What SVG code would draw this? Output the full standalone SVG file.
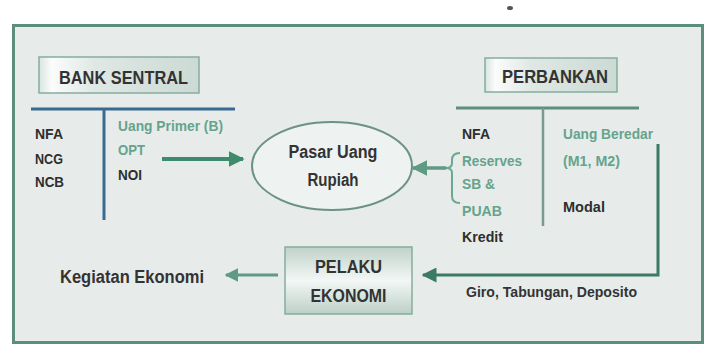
<svg xmlns="http://www.w3.org/2000/svg" width="721" height="358" viewBox="0 0 721 358">
<defs>
<linearGradient id="gH" x1="0" y1="0" x2="1" y2="0">
<stop offset="0" stop-color="#d9e5e0"/>
<stop offset="0.08" stop-color="#fbfcfc"/>
<stop offset="0.35" stop-color="#dfe8e4"/>
<stop offset="1" stop-color="#ccdad4"/>
</linearGradient>
<linearGradient id="gV" x1="0" y1="0" x2="0" y2="1">
<stop offset="0" stop-color="#bfd2c9"/>
<stop offset="0.5" stop-color="#f3f7f5"/>
<stop offset="1" stop-color="#bcd0c7"/>
</linearGradient>
<marker id="ahG" viewBox="0 0 10 10" refX="9" refY="5" markerWidth="4" markerHeight="4" orient="auto" markerUnits="strokeWidth">
<path d="M0,0 L10,5 L0,10 Z" fill="#3d8a6c"/>
</marker>
<marker id="ahL" viewBox="0 0 10 10" refX="9" refY="5" markerWidth="4.5" markerHeight="4.5" orient="auto" markerUnits="strokeWidth">
<path d="M0,0 L10,5 L0,10 Z" fill="#5f9a84"/>
</marker>
<marker id="ahD" viewBox="0 0 10 10" refX="9" refY="5" markerWidth="5" markerHeight="5" orient="auto" markerUnits="strokeWidth">
<path d="M0,0 L10,5 L0,10 Z" fill="#3b7a64"/>
</marker>
</defs>
<style>
text{font-family:"Liberation Sans",Arial,sans-serif;font-weight:bold}
.dk{fill:#2e2e2e;font-size:14px}
.gr{fill:#66a38d;font-size:14px}
.lb{fill:#333;font-size:18px}
.box{stroke:#86ad9f;stroke-width:1.5}
</style>
<rect x="0" y="0" width="721" height="358" fill="#ffffff"/>
<ellipse cx="510" cy="8" rx="3" ry="2" fill="#555"/>
<rect id="frame" x="13.5" y="25.5" width="689" height="317" fill="#e7ecea" stroke="#5b8f7c" stroke-width="3"/>

<g id="bank-sentral">
<rect class="box" x="39" y="57" width="160" height="36" fill="url(#gH)"/>
<text class="lb" x="59" y="84" textLength="129" lengthAdjust="spacingAndGlyphs">BANK SENTRAL</text>
<line x1="31" y1="109" x2="235" y2="109" stroke="#3a6a92" stroke-width="3"/>
<line x1="104" y1="109" x2="104" y2="220" stroke="#3a6a92" stroke-width="3"/>
<text class="dk" x="35" y="139" textLength="28" lengthAdjust="spacingAndGlyphs">NFA</text>
<text class="dk" x="35" y="164" textLength="28" lengthAdjust="spacingAndGlyphs">NCG</text>
<text class="dk" x="35" y="187" textLength="29" lengthAdjust="spacingAndGlyphs">NCB</text>
<text class="gr" x="118" y="131" textLength="105" lengthAdjust="spacingAndGlyphs">Uang Primer (B)</text>
<text class="gr" x="118" y="155" textLength="27" lengthAdjust="spacingAndGlyphs" fill="#7aae9c">OPT</text>
<text class="dk" x="118" y="180" textLength="24" lengthAdjust="spacingAndGlyphs">NOI</text>
</g>

<g id="pasar-uang">
<ellipse cx="332" cy="166" rx="80" ry="44" fill="#eef2f0" stroke="#6b9282" stroke-width="2"/>
<text class="lb" x="333" y="158" text-anchor="middle" font-size="16" textLength="89" lengthAdjust="spacingAndGlyphs">Pasar Uang</text>
<text class="lb" x="333" y="186" text-anchor="middle" font-size="16" textLength="51" lengthAdjust="spacingAndGlyphs">Rupiah</text>
</g>

<g id="perbankan">
<rect class="box" x="485" y="58" width="132" height="34" fill="url(#gH)"/>
<text class="lb" x="502" y="83" font-size="16" textLength="106" lengthAdjust="spacingAndGlyphs">PERBANKAN</text>
<line x1="456" y1="108" x2="639" y2="108" stroke="#5f8e7c" stroke-width="3"/>
<line x1="543" y1="108" x2="543" y2="226" stroke="#7a9a8e" stroke-width="2.5"/>
<text class="dk" x="462" y="139" textLength="28" lengthAdjust="spacingAndGlyphs">NFA</text>
<text class="gr" x="462" y="166" textLength="60" lengthAdjust="spacingAndGlyphs">Reserves</text>
<text class="gr" x="462" y="189" textLength="33" lengthAdjust="spacingAndGlyphs">SB &amp;</text>
<text class="gr" x="462" y="216" textLength="40" lengthAdjust="spacingAndGlyphs">PUAB</text>
<text class="dk" x="462" y="242" textLength="41" lengthAdjust="spacingAndGlyphs">Kredit</text>
<text class="gr" x="563" y="139" textLength="90" lengthAdjust="spacingAndGlyphs">Uang Beredar</text>
<text class="gr" x="563" y="166" textLength="57" lengthAdjust="spacingAndGlyphs">(M1, M2)</text>
<text class="dk" x="563" y="212" textLength="42" lengthAdjust="spacingAndGlyphs">Modal</text>
</g>

<g id="pelaku-ekonomi">
<rect class="box" x="285" y="247" width="127" height="67" fill="url(#gV)"/>
<text class="lb" x="348.5" y="273" text-anchor="middle" textLength="67" lengthAdjust="spacingAndGlyphs">PELAKU</text>
<text class="lb" x="348.5" y="302" text-anchor="middle" textLength="76" lengthAdjust="spacingAndGlyphs">EKONOMI</text>
</g>

<g id="kegiatan-ekonomi">
<text class="lb" x="60" y="283" font-size="17" textLength="144" lengthAdjust="spacingAndGlyphs">Kegiatan Ekonomi</text>
</g>

<g id="connectors" fill="none">
<line x1="162" y1="159" x2="243" y2="159" stroke="#3d8a6c" stroke-width="4" marker-end="url(#ahG)"/>
<path d="M460,153 Q452,153 452,160 L452,163 Q452,168 446,168 Q452,168 452,173 L452,196 Q452,203 460,203" stroke="#6aa891" stroke-width="2"/>
<line x1="446" y1="168" x2="413" y2="168" stroke="#5f9a84" stroke-width="3.5" marker-end="url(#ahL)"/>
<polyline points="658,144 658,275 423,275" stroke="#3b7a64" stroke-width="3" marker-end="url(#ahD)"/>
<line x1="278" y1="275" x2="226" y2="275" stroke="#5f9a84" stroke-width="3" marker-end="url(#ahL)"/>
<text x="466" y="297" fill="#333" font-size="14" stroke="none" textLength="171" lengthAdjust="spacingAndGlyphs">Giro, Tabungan, Deposito</text>
</g>
</svg>
